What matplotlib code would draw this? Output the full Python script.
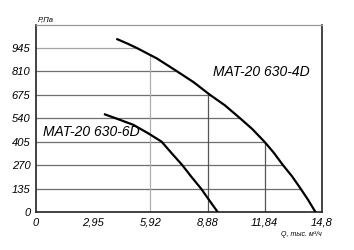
import numpy as np
import matplotlib
matplotlib.use("Agg")
import matplotlib.pyplot as plt

# fan curves: flow Q (thousand m3/h), pressure P (Pa)
q_4d = [4.21, 4.71, 5.21, 6.26, 7.30, 8.15, 9.00, 9.78, 10.56, 11.19,
        11.82, 12.30, 12.78, 13.24, 13.69, 14.08, 14.46]
p_4d = [995, 971, 945, 884, 810, 748, 675, 614, 540, 478,
        405, 342, 270, 207, 135, 70, 0]
q_6d = [3.57, 4.12, 5.04, 5.81, 6.50, 7.04, 7.57, 8.06, 8.54, 8.97, 9.40]
p_6d = [562, 540, 502, 453, 405, 336, 270, 200, 135, 67, 0]

y_ticks = [0, 135, 270, 405, 540, 675, 810, 945]
x_ticks = [0, 2.95, 5.92, 8.88, 11.84, 14.8]
x_labels = ["0", "2,95", "5,92", "8,88", "11,84", "14,8"]
v_grid = [5.92, 8.88, 11.84]

font = ["Liberation Sans", "DejaVu Sans"]

fig = plt.figure(figsize=(3.54, 2.5), dpi=100)
ax = fig.add_axes([36 / 354, 38 / 250, 286 / 354, 187 / 250])
ax.set_xlim(0, 14.8)
ax.set_ylim(0, 1077)

# grid lines stop at the 4D curve
q_rev = q_4d[::-1]
p_rev = p_4d[::-1]
for p in y_ticks[1:]:
    q_end = np.interp(p, p_rev, q_rev)
    col = "#a0a6a6" if p == 945 else "#6e6e6e"
    ax.hlines(p, 0, q_end, color=col, lw=0.9, zorder=1)
for q in v_grid:
    p_end = np.interp(q, q_4d, p_4d)
    col = "#aab0b0" if q < 6 else "#555555"
    ax.vlines(q, 0, p_end, color=col, lw=0.9, zorder=1)

ax.plot(q_4d, p_4d, color="black", lw=1.6, zorder=3)
ax.plot(q_6d, p_6d, color="black", lw=1.6, zorder=3)

ax.text(9.15, 805, "MAT-20 630-4D", fontsize=10, style="italic",
        family=font, va="center", ha="left")
ax.text(0.35, 462, "MAT-20 630-6D", fontsize=10, style="italic",
        family=font, va="center", ha="left")

ax.set_yticks(y_ticks)
ax.set_yticklabels([str(v) for v in y_ticks], fontsize=8, style="italic",
                   family=font)
ax.set_xticks(x_ticks)
ax.set_xticklabels(x_labels, fontsize=8, style="italic", family=font)
ax.tick_params(length=0, pad=4)

for side in ["left", "bottom", "right"]:
    ax.spines[side].set_color("#222222")
    ax.spines[side].set_linewidth(1.2)
ax.spines["top"].set_color("#9a9a9a")
ax.spines["top"].set_linewidth(0.9)

fig.text(38 / 354, 1 - 20 / 250, "P,Па", fontsize=5.5, style="italic",
         family=font, va="center", ha="left")
fig.text(322 / 354, 1 - 234 / 250, "Q, тыс. м³/ч", fontsize=5, style="italic",
         family=font, va="center", ha="right")

fig.savefig("out.png", dpi=100)
